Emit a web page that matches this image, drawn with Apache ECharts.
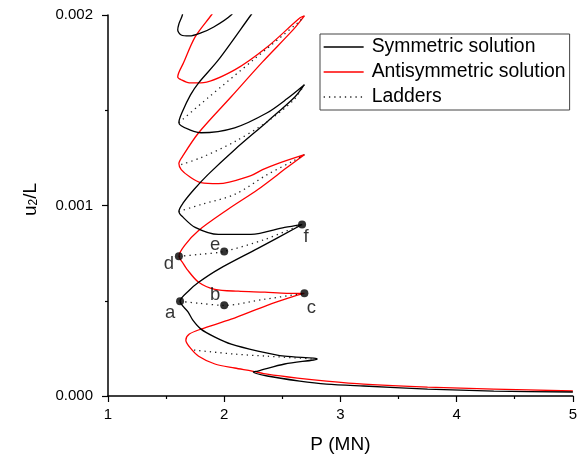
<!DOCTYPE html>
<html><head><meta charset="utf-8">
<script src="https://cdn.jsdelivr.net/npm/echarts@6/dist/echarts.min.js"></script>
<style>html,body{margin:0;padding:0;background:#fff}#c{width:580px;height:459px}</style>
</head><body><div id="c"></div>
<script>
// ---- data (P in MN, u2/L) ----
var symmetricCurve = [
  [5.00,0.0000210],[4.32,0.0000260],[3.75,0.0000366],[3.20,0.0000524],[2.88,0.0000628],[2.65,0.0000785],[2.37,0.000105],[2.25,0.000126],
  [2.29,0.000131],[2.52,0.000168],[2.77,0.000189],[2.80,0.000194],
  [2.77,0.000199],[2.52,0.000209],[2.29,0.000236],[2.06,0.000272],[1.92,0.000309],[1.80,0.000351],[1.73,0.000398],[1.69,0.000440],[1.62,0.000497],
  [1.70,0.000555],[1.78,0.000597],[1.95,0.000665],[2.29,0.000775],[2.67,0.000900],
  [2.52,0.000885],[2.23,0.000848],[1.95,0.000848],[1.75,0.000885],[1.64,0.000942],[1.61,0.000969],
  [1.65,0.001016],[1.74,0.001084],[1.86,0.001162],[2.09,0.001293],[2.37,0.001440],[2.61,0.001571],[2.69,0.001634],
  [2.54,0.001560],[2.37,0.001487],[2.09,0.001408],[1.80,0.001382],[1.70,0.001398],[1.63,0.001419],[1.61,0.001435],
  [1.64,0.001492],[1.71,0.001581],[1.78,0.001644],[1.95,0.001764],[2.23,0.002000],[2.54,0.002260],[2.69,0.002350],[2.20,0.002105],[2.06,0.002000],
  [1.91,0.001937],[1.80,0.001906],[1.70,0.001890],[1.63,0.001895],[1.60,0.001921],[1.61,0.001953],[1.64,0.002000],[1.65,0.002060]
];
var antisymmetricCurve = [
  [5.00,0.0000262],[4.32,0.0000366],[3.75,0.0000471],[3.20,0.0000628],[2.88,0.0000785],[2.63,0.0000942],[2.37,0.000115],[2.24,0.000131],[2.09,0.000147],[1.92,0.000168],[1.78,0.000209],[1.71,0.000251],[1.67,0.000293],
  [1.70,0.000325],[1.80,0.000351],[2.06,0.000403],[2.37,0.000476],[2.63,0.000529],[2.69,0.000539],
  [2.54,0.000539],[2.35,0.000545],[2.12,0.000550],[1.92,0.000560],[1.78,0.000597],[1.68,0.000665],[1.64,0.000702],[1.61,0.000733],
  [1.66,0.000791],[1.78,0.000869],[2.03,0.000979],[2.29,0.001084],[2.54,0.001199],[2.69,0.001267],
  [2.46,0.001220],[2.33,0.001188],[2.23,0.001157],[1.95,0.001115],[1.80,0.001120],[1.70,0.001152],[1.63,0.001188],[1.61,0.001220],
  [1.64,0.001257],[1.78,0.001382],[2.06,0.001571],[2.33,0.001754],[2.60,0.001927],[2.69,0.001995],
  [2.65,0.001984],[2.37,0.001832],[2.09,0.001712],[1.80,0.001644],[1.70,0.001644],[1.63,0.001660],[1.60,0.001675],
  [1.65,0.001749],[1.75,0.001885],[1.89,0.002000],[1.95,0.002052]
];
var ladder1 = [[1.74,0.000241],[2.09,0.000220],[2.37,0.000209],[2.78,0.000194]];
var ladder2 = [[1.62,0.000497],[1.78,0.000487],[2.00,0.000476],[2.35,0.000508],[2.69,0.000539]];
var ladder3 = [[1.61,0.000733],[1.78,0.000743],[2.00,0.000759],[2.35,0.000822],[2.67,0.000900]];
var ladder4 = [[1.61,0.000969],[1.80,0.001005],[2.09,0.001058],[2.37,0.001162],[2.60,0.001236],[2.69,0.001267]];
var ladder5 = [[1.63,0.001215],[1.80,0.001251],[2.09,0.001335],[2.37,0.001440],[2.60,0.001555],[2.69,0.001634]];
var ladder6 = [[1.61,0.001435],[1.86,0.001565],[2.25,0.001764],[2.64,0.001963],[2.69,0.001995]];
var pointNames = ['a','b','c','d','e','f'];
var pointP     = [1.62, 2.00, 2.69, 1.61, 2.00, 2.67];
var pointU     = [0.000497, 0.000476, 0.000539, 0.000733, 0.000759, 0.000900];
var xTickLabels = ['1','2','3','4','5'];
var yTickLabels = ['0.000','0.001','0.002'];
var seriesNames = ['Symmetric solution','Antisymmetric solution','Ladders'];

// ---- styling / build ----
var FONT = 'Liberation Sans, Arial, sans-serif';
var labelOffsets = {a:[-10,12], b:[-9,-10], c:[7,15], d:[-10,8], e:[-9,-7], f:[4,12]};
var ladders = [ladder1, ladder2, ladder3, ladder4, ladder5, ladder6];

var series = [];
series.push({name: seriesNames[0], type:'line', data: symmetricCurve, symbol:'none', smooth:0.3, z:3,
  lineStyle:{color:'#000', width:1.3}, itemStyle:{color:'#000'}});
series.push({name: seriesNames[1], type:'line', data: antisymmetricCurve, symbol:'none', smooth:0.3, z:2,
  lineStyle:{color:'#ff0000', width:1.3}, itemStyle:{color:'#ff0000'}});
ladders.forEach(function(l){
  series.push({name: seriesNames[2], type:'line', data: l, symbol:'none', smooth:0.3, z:4,
    lineStyle:{color:'#222', width:1.3, type:[1.3,4]}, itemStyle:{color:'#222'}});
});
series.push({name:'points', type:'scatter', symbolSize:8, z:6, itemStyle:{color:'#000'},
  data: pointNames.map(function(n,i){
    return {value:[pointP[i], pointU[i]], name:n,
      label:{show:true, formatter:n, position:'inside', offset: labelOffsets[n],
        color:'#000', fontSize:18.5, fontFamily:FONT, textBorderWidth:0, textBorderColor:'transparent'}};
  })
});

var chart = echarts.init(document.getElementById('c'), null, {renderer:'canvas'});
chart.setOption({
  animation:false,
  backgroundColor:'#fff',
  grid:{left:108, right:0, top:15, bottom:62, containLabel:false},
  legend:{
    data: seriesNames, orient:'vertical', left:320, top:34,
    padding:[3,4,3,3], itemGap:5, itemWidth:40, itemHeight:20,
    backgroundColor:'#fff', borderColor:'#444', borderWidth:1,
    itemStyle:{color:'rgba(0,0,0,0)', borderWidth:0, opacity:0},
    lineStyle:{width:1.3},
    textStyle:{fontSize:19.4, fontFamily:FONT, color:'#000', lineHeight:20, padding:[0,0,0,3]}
  },
  xAxis:{
    type:'value', min:1, max:5, interval:1,
    name:'P (MN)', nameLocation:'middle', nameGap:39,
    nameTextStyle:{fontSize:19, fontFamily:FONT, color:'#000'},
    axisLine:{show:true, lineStyle:{color:'#000', width:1.5}},
    axisTick:{show:true, length:6, lineStyle:{color:'#000', width:1.2}},
    minorTick:{show:true, splitNumber:2, length:3, lineStyle:{color:'#000', width:1.2}},
    splitLine:{show:false},
    axisLabel:{fontSize:15, fontFamily:FONT, color:'#000', margin:11,
      formatter:function(v){ var i = Math.round(v-1); return xTickLabels[i] !== undefined ? xTickLabels[i] : ''; }}
  },
  yAxis:{
    type:'value', min:0, max:0.002, interval:0.001,
    name:'{m|u}{s|2}{m|/L}', nameLocation:'middle', nameGap:68,
    nameTextStyle:{fontSize:19, fontFamily:FONT, color:'#000', padding:[0,0,0,12],
      rich:{m:{fontSize:19, fontFamily:FONT, color:'#000'}, s:{fontSize:12, fontFamily:FONT, color:'#000', verticalAlign:'bottom'}}},
    axisLine:{show:true, lineStyle:{color:'#000', width:1.5}},
    axisTick:{show:true, length:6, lineStyle:{color:'#000', width:1.2}},
    minorTick:{show:true, splitNumber:2, length:3, lineStyle:{color:'#000', width:1.2}},
    splitLine:{show:false},
    axisLabel:{fontSize:15, fontFamily:FONT, color:'#000', margin:15,
      formatter:function(v){ var i = Math.round(v/0.001); return yTickLabels[i] !== undefined ? yTickLabels[i] : ''; }}
  },
  series: series
});
</script></body></html>
